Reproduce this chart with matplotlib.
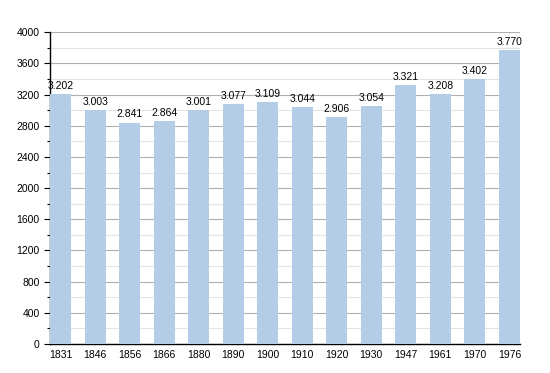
import numpy as np
import matplotlib.pyplot as plt
from matplotlib.ticker import MultipleLocator

plt.rcParams['font.family'] = ['Liberation Sans', 'DejaVu Sans']

years = ['1831', '1846', '1856', '1866', '1880', '1890', '1900',
         '1910', '1920', '1930', '1947', '1961', '1970', '1976']
population = [3202, 3003, 2841, 2864, 3001, 3077, 3109,
              3044, 2906, 3054, 3321, 3208, 3402, 3770]
labels = ['3.202', '3.003', '2.841', '2.864', '3.001', '3.077', '3.109',
          '3.044', '2.906', '3.054', '3.321', '3.208', '3.402', '3.770']

fig = plt.figure(figsize=(5.5, 3.73), dpi=100)
ax = fig.add_axes([0.0909, 0.0777, 0.854, 0.836])

x = np.arange(len(years))
ax.bar(x, population, width=0.6, color='#b3cde6', zorder=3)
for xi, v, lab in zip(x, population, labels):
    ax.text(xi, v + 40, lab, ha='center', va='bottom', fontsize=7.5, zorder=4)

ax.set_xlim(-0.31, 13.3)
ax.set_ylim(0, 4000)
ax.set_xticks(x)
ax.set_xticklabels(years, fontsize=7.5)
ax.yaxis.set_major_locator(MultipleLocator(400))
ax.yaxis.set_minor_locator(MultipleLocator(200))
ax.tick_params(axis='y', labelsize=7.5, length=4, width=0.8)
ax.tick_params(axis='y', which='minor', length=2.5, width=0.8)
ax.tick_params(axis='x', length=0, pad=4)
ax.grid(axis='y', which='major', color='#b0b0b0', linewidth=0.8, zorder=0)
ax.grid(axis='y', which='minor', color='#e4e4e4', linewidth=0.8, zorder=0)
for s in ['top', 'right']:
    ax.spines[s].set_visible(False)
ax.spines['left'].set_linewidth(1)
ax.spines['bottom'].set_linewidth(1)

plt.savefig('out.png', dpi=100)
